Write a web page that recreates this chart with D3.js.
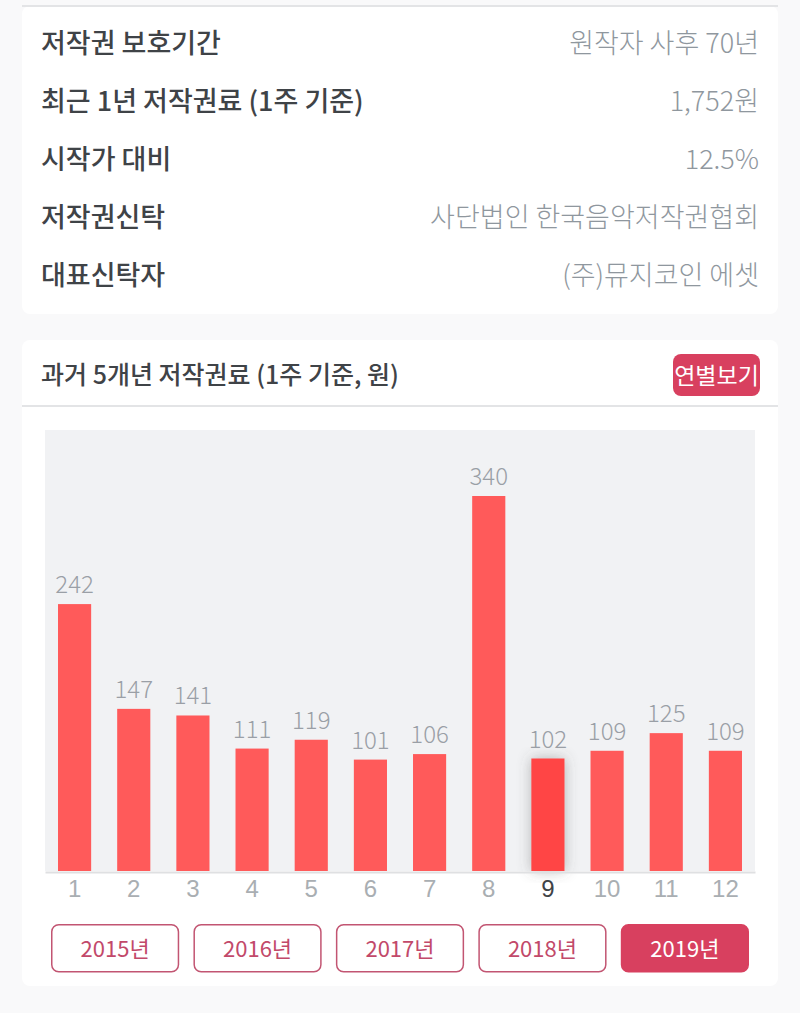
<!doctype html>
<html>
<head>
<meta charset="utf-8">
<title>과거 5개년 저작권료</title>
<script src="https://d3js.org/d3.v7.min.js"></script>
<style>
  html, body { margin: 0; padding: 0; background: #f9f9fa; }
  svg { display: block; font-family: "Noto Sans CJK KR", "Noto Sans", sans-serif; }
</style>
</head>
<body>
<div id="chart"></div>
<script>
// data
var months = ["1", "2", "3", "4", "5", "6", "7", "8", "9", "10", "11", "12"];
var royalties = [242, 147, 141, 111, 119, 101, 106, 340, 102, 109, 125, 109];
var years = ["2015년", "2016년", "2017년", "2018년", "2019년"];
var infoLabels = ["저작권 보호기간", "최근 1년 저작권료 (1주 기준)", "시작가 대비", "저작권신탁", "대표신탁자"];
var infoValues = ["원작자 사후 70년", "1,752원", "12.5%", "사단법인 한국음악저작권협회", "(주)뮤지코인 에셋"];
var activeMonth = "9";
var activeYear = "2019년";

var svg = d3.select("#chart").append("svg")
    .attr("width", 800)
    .attr("height", 1013);

var defs = svg.append("defs");
var shadow = defs.append("filter").attr("id", "barShadow")
    .attr("x", "-60%").attr("y", "-10%").attr("width", "220%").attr("height", "120%");
shadow.append("feDropShadow")
    .attr("dx", 0).attr("dy", 0).attr("stdDeviation", 7)
    .attr("flood-color", "#555").attr("flood-opacity", 0.4);

// cards
svg.append("rect").attr("x", 22).attr("y", 6).attr("width", 756).attr("height", 308).attr("rx", 8).attr("fill", "#fff");
svg.append("rect").attr("x", 22).attr("y", 340).attr("width", 756).attr("height", 646).attr("rx", 8).attr("fill", "#fff");
svg.append("rect").attr("x", 22).attr("y", 5).attr("width", 756).attr("height", 2).attr("fill", "#e3e4e6");
svg.append("rect").attr("x", 22).attr("y", 405).attr("width", 756).attr("height", 2).attr("fill", "#e3e4e6");

// info table
var rowY = d3.scalePoint().domain(infoLabels).range([53, 285]);

svg.append("g").selectAll("text").data(infoLabels).join("text")
    .attr("x", 41)
    .attr("y", function(d) { return rowY(d); })
    .attr("font-size", 27)
    .attr("font-weight", 500)
    .attr("fill", "#3f4347")
    .text(function(d) { return d; });

svg.append("g").selectAll("text").data(infoValues).join("text")
    .attr("x", 759)
    .attr("y", function(d, i) { return rowY(infoLabels[i]); })
    .attr("text-anchor", "end")
    .attr("font-size", 27)
    .attr("font-weight", 300)
    .attr("fill", "#8f979e")
    .text(function(d) { return d; });

// chart header
svg.append("text")
    .attr("x", 41).attr("y", 384)
    .attr("font-size", 25)
    .attr("font-weight", 500)
    .attr("fill", "#3f4347")
    .text("과거 5개년 저작권료 (1주 기준, 원)");

svg.append("rect").attr("x", 673).attr("y", 354).attr("width", 87).attr("height", 42).attr("rx", 8).attr("fill", "#d8405f");
svg.append("text")
    .attr("x", 716.5).attr("y", 384)
    .attr("text-anchor", "middle")
    .attr("font-size", 23)
    .attr("fill", "#fff")
    .text("연별보기");

// bar chart
var x = d3.scaleBand().domain(months).range([45, 755]).paddingInner(0.44).paddingOuter(0.22);
var y = d3.scaleLinear().domain([0, 340]).range([871, 496]);

svg.append("rect").attr("x", 45).attr("y", 430).attr("width", 710).attr("height", 441).attr("fill", "#f1f2f4");

svg.append("g").selectAll("rect").data(royalties).join("rect")
    .attr("x", function(d, i) { return x(months[i]); })
    .attr("y", function(d) { return y(d); })
    .attr("width", x.bandwidth())
    .attr("height", function(d) { return y(0) - y(d); })
    .attr("fill", function(d, i) { return months[i] === activeMonth ? "#ff4545" : "#ff5a5a"; })
    .attr("filter", function(d, i) { return months[i] === activeMonth ? "url(#barShadow)" : null; });

svg.append("g").selectAll("text").data(royalties).join("text")
    .attr("x", function(d, i) { return x(months[i]) + x.bandwidth() / 2; })
    .attr("y", function(d) { return y(d) - 11; })
    .attr("text-anchor", "middle")
    .attr("font-size", 24)
    .attr("font-weight", 300)
    .attr("fill", "#9a9fa6")
    .text(function(d) { return d; });

// x axis
var xAxis = svg.append("g")
    .attr("transform", "translate(0,872)")
    .call(d3.axisBottom(x).tickSize(0).tickPadding(8));
xAxis.select(".domain").attr("stroke", "#dfe0e2").attr("stroke-width", 2);
xAxis.selectAll("text")
    .attr("font-family", "inherit")
    .attr("font-size", 24)
    .attr("font-weight", 300)
    .attr("fill", function(d) { return d === activeMonth ? "#3f4347" : "#a9aeb2"; });

// year buttons
var yearX = d3.scaleBand().domain(years).range([51, 749]).paddingInner(0.1);

svg.append("g").selectAll("rect").data(years).join("rect")
    .attr("x", function(d) { return yearX(d) + 0.75; })
    .attr("y", 924.75)
    .attr("width", yearX.bandwidth() - 1.5)
    .attr("height", 47)
    .attr("rx", 7)
    .attr("fill", function(d) { return d === activeYear ? "#d8405f" : "#fff"; })
    .attr("stroke", function(d) { return d === activeYear ? "#d8405f" : "#c25572"; })
    .attr("stroke-width", 1.5);

svg.append("g").selectAll("text").data(years).join("text")
    .attr("x", function(d) { return yearX(d) + yearX.bandwidth() / 2; })
    .attr("y", 957)
    .attr("text-anchor", "middle")
    .attr("font-size", 22)
    .attr("fill", function(d) { return d === activeYear ? "#fff" : "#c2496a"; })
    .text(function(d) { return d; });
</script>
</body>
</html>
